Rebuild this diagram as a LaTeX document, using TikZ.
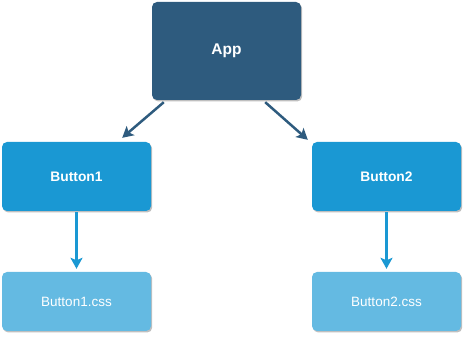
\documentclass[tikz,border=0pt]{standalone}
\usepackage{fontspec}
\setmainfont{Liberation Sans}
\usetikzlibrary{arrows.meta,shadows,positioning}
\definecolor{appc}{HTML}{2E5B7E}
\definecolor{btnc}{HTML}{1A98D3}
\definecolor{cssc}{HTML}{64BAE2}
\tikzset{
  box/.style={rounded corners=5pt, minimum width=149pt, inner sep=0pt, text=white,
    font=\fontsize{13.5}{16}\selectfont,
    drop shadow={shadow xshift=1.2pt, shadow yshift=-1.5pt, opacity=0.25, fill=black}},
  appbox/.style={box, fill=appc, minimum height=98pt, font=\fontsize{15.5}{18}\selectfont\bfseries},
  btnbox/.style={box, fill=btnc, minimum height=69pt, font=\fontsize{13.8}{16}\selectfont\bfseries},
  cssbox/.style={box, fill=cssc, minimum height=59pt},
  darr/.style={line width=2.5pt, draw=appc, -{Stealth[length=11pt,width=12pt,inset=2.5pt]}},
  barr/.style={line width=2.5pt, draw=btnc, -{Stealth[length=11pt,width=12pt,inset=2.5pt]}}
}
\begin{document}
\begin{tikzpicture}[x=1pt,y=-1pt]
\useasboundingbox (0,0) rectangle (474,344);
\node[appbox] (app) at (226.5,51) {App};
\node[btnbox] (b1) at (76.5,176.5) {Button1};
\node[btnbox] (b2) at (386.5,176.5) {Button2};
\node[cssbox] (c1) at (76.5,301.5) {Button1.css};
\node[cssbox] (c2) at (386.5,301.5) {Button2.css};
\coordinate (s1) at ([xshift=12pt,yshift=-2pt]app.south west);
\coordinate (s2) at ([xshift=-36pt,yshift=-2pt]app.south east);
\coordinate (t1) at ([xshift=-29pt,yshift=4pt]b1.north east);
\coordinate (t2) at ([xshift=-4pt,yshift=2pt]b2.north west);
\draw[darr] (s1) -- (t1);
\draw[darr] (s2) -- (t2);
\draw[barr] ([yshift=-1pt]b1.south) -- ([yshift=3pt]c1.north);
\draw[barr] ([yshift=-1pt]b2.south) -- ([yshift=3pt]c2.north);
\end{tikzpicture}
\end{document}
